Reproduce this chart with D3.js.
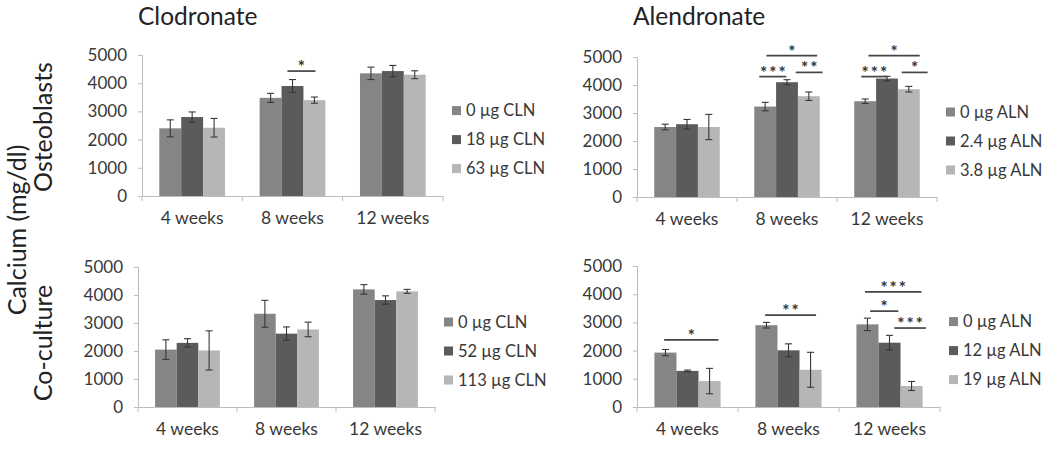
<!DOCTYPE html>
<html>
<head>
<meta charset="utf-8">
<script src="https://cdn.jsdelivr.net/npm/d3@7"></script>
<style>
  html, body { margin: 0; padding: 0; background: #fff; }
  svg { display: block; font-family: Lato, "Open Sans", sans-serif; }
</style>
</head>
<body>
<svg id="chart" width="1050" height="451"></svg>
<script>
// ---------- data ----------
const categories = ["4 weeks", "8 weeks", "12 weeks"];
const yTicks = [0, 1000, 2000, 3000, 4000, 5000];

// Clodronate - Osteoblasts
const clnOstLabels = ["0 µg CLN", "18 µg CLN", "63 µg CLN"];
const clnOstMeans = [[2400, 2800, 2420], [3480, 3900, 3400], [4350, 4430, 4300]];
const clnOstErrs  = [[300, 180, 330], [160, 230, 110], [220, 200, 140]];
const clnOstSig   = [{cat: 1, from: 1.27, to: 2.55, v: 4430, label: "*"}];

// Alendronate - Osteoblasts
const alnOstLabels = ["0 µg ALN", "2.4 µg ALN", "3.8 µg ALN"];
const alnOstMeans = [[2500, 2600, 2500], [3230, 4100, 3600], [3420, 4230, 3850]];
const alnOstErrs  = [[100, 170, 450], [150, 90, 150], [80, 80, 100]];
const alnOstSig   = [
  {cat: 1, from: 0.56, to: 2.88, v: 5050, label: "*"},
  {cat: 1, from: 0.23, to: 1.47, v: 4300, label: "***"},
  {cat: 1, from: 1.90, to: 3.13, v: 4450, label: "**"},
  {cat: 2, from: 0.65, to: 3.00, v: 5050, label: "*"},
  {cat: 2, from: 0.32, to: 1.52, v: 4300, label: "***"},
  {cat: 2, from: 2.17, to: 3.36, v: 4450, label: "*"}
];

// Clodronate - Co-culture
const clnCoLabels = ["0 µg CLN", "52 µg CLN", "113 µg CLN"];
const clnCoMeans = [[2050, 2290, 2020], [3330, 2620, 2770], [4200, 3820, 4130]];
const clnCoErrs  = [[350, 150, 700], [480, 240, 260], [170, 150, 70]];
const clnCoSig   = [];

// Alendronate - Co-culture
const alnCoLabels = ["0 µg ALN", "12 µg ALN", "19 µg ALN"];
const alnCoMeans = [[1930, 1280, 920], [2900, 2010, 1320], [2930, 2280, 745]];
const alnCoErrs  = [[110, 30, 450], [100, 230, 620], [220, 260, 160]];
const alnCoSig   = [
  {cat: 0, from: 0.44, to: 2.90, v: 2380, label: "*"},
  {cat: 1, from: 0.44, to: 2.75, v: 3260, label: "**"},
  {cat: 2, from: 0.39, to: 2.95, v: 4080, label: "***"},
  {cat: 2, from: 0.62, to: 1.90, v: 3400, label: "*"},
  {cat: 2, from: 1.72, to: 3.15, v: 2800, label: "***"}
];

const titles = ["Clodronate", "Alendronate"];
const rowLabels = ["Osteoblasts", "Co-culture"];
const yAxisTitle = "Calcium (mg/dl)";

// ---------- styling / layout ----------
const barColors = ["#858585", "#5b5b5b", "#b6b6b6"];
const axisColor = "#bdbdbd";
const textColor = "#383838";
const errColor = "#383838";

const panels = [
  {labels: clnOstLabels, means: clnOstMeans, errs: clnOstErrs, sig: clnOstSig, box: {x0: 142, x1: 443, y0: 55, y1: 196}},
  {labels: alnOstLabels, means: alnOstMeans, errs: alnOstErrs, sig: alnOstSig, box: {x0: 637, x1: 937, y0: 57, y1: 197}},
  {labels: clnCoLabels,  means: clnCoMeans,  errs: clnCoErrs,  sig: clnCoSig,  box: {x0: 138, x1: 435, y0: 267, y1: 407}},
  {labels: alnCoLabels,  means: alnCoMeans,  errs: alnCoErrs,  sig: alnCoSig,  box: {x0: 637, x1: 940, y0: 266, y1: 407}}
];

const svg = d3.select("#chart");

panels.forEach(p => {
  const b = p.box;
  const g = svg.append("g");
  const y = d3.scaleLinear().domain([0, 5000]).range([b.y1, b.y0]);
  const xCat = d3.scaleBand().domain(categories).range([b.x0, b.x1]).paddingInner(0).paddingOuter(0);
  const cw = xCat.bandwidth();
  const groupW = cw * 0.655;
  const bw = groupW / 3;
  const groupStart = c => xCat(c) + (cw - groupW) / 2;
  const xDose = d3.scaleBand().domain([0, 1, 2]).range([0, groupW]).padding(0);

  // y axis
  const yAxis = d3.axisLeft(y).tickValues(yTicks).tickSize(4).tickPadding(11).tickFormat(d3.format("d"));
  const ya = g.append("g").attr("transform", `translate(${b.x0},0)`).call(yAxis);
  ya.select(".domain").attr("stroke", axisColor);
  ya.selectAll(".tick line").attr("stroke", axisColor);
  ya.selectAll(".tick text").attr("fill", textColor).style("font-size", "17px").style("font-family", "Lato, sans-serif");

  // x axis
  const xa = g.append("g").attr("transform", `translate(0,${b.y1})`)
    .call(d3.axisBottom(xCat).tickSize(0).tickPadding(16));
  xa.select(".domain").attr("stroke", axisColor);
  xa.selectAll(".tick text").attr("fill", textColor).style("font-size", "17.5px").style("font-family", "Lato, sans-serif");
  // boundary tick marks
  const bounds = categories.map(c => xCat(c)).concat([b.x1]);
  g.selectAll(".bt").data(bounds).enter().append("line")
    .attr("x1", d => d).attr("x2", d => d)
    .attr("y1", b.y1).attr("y2", b.y1 + 5)
    .attr("stroke", axisColor);

  // bars
  const rows = [];
  categories.forEach((c, ci) => {
    p.means[ci].forEach((m, di) => rows.push({c, ci, di, m, e: p.errs[ci][di]}));
  });
  g.selectAll(".bar").data(rows).enter().append("rect")
    .attr("x", d => groupStart(d.c) + xDose(d.di))
    .attr("width", xDose.bandwidth())
    .attr("y", d => y(d.m))
    .attr("height", d => y(0) - y(d.m))
    .attr("fill", d => barColors[d.di]);

  // error bars
  const cap = 3.5;
  const eg = g.selectAll(".err").data(rows).enter().append("g");
  const cx = d => groupStart(d.c) + xDose(d.di) + xDose.bandwidth() / 2;
  eg.append("line").attr("x1", cx).attr("x2", cx)
    .attr("y1", d => y(d.m + d.e)).attr("y2", d => y(d.m - d.e))
    .attr("stroke", errColor).attr("stroke-width", 1.1);
  eg.append("line").attr("x1", d => cx(d) - cap).attr("x2", d => cx(d) + cap)
    .attr("y1", d => y(d.m + d.e)).attr("y2", d => y(d.m + d.e))
    .attr("stroke", errColor).attr("stroke-width", 1.1);
  eg.append("line").attr("x1", d => cx(d) - cap).attr("x2", d => cx(d) + cap)
    .attr("y1", d => y(d.m - d.e)).attr("y2", d => y(d.m - d.e))
    .attr("stroke", errColor).attr("stroke-width", 1.1);

  // significance annotations
  const sx = (s, t) => groupStart(categories[s.cat]) + t * bw;
  const sg = g.selectAll(".sig").data(p.sig).enter().append("g");
  sg.append("line")
    .attr("x1", d => sx(d, d.from)).attr("x2", d => sx(d, d.to))
    .attr("y1", d => y(d.v)).attr("y2", d => y(d.v))
    .attr("stroke", "#444").attr("stroke-width", 1.7);
  sg.append("text")
    .attr("x", d => (sx(d, d.from) + sx(d, d.to)) / 2 + 1)
    .attr("y", d => y(d.v) + 2)
    .attr("text-anchor", "middle")
    .attr("fill", "#333")
    .style("font-size", "17px")
    .style("font-weight", "bold")
    .style("letter-spacing", "2px")
    .text(d => d.label);

  // legend
  const lx = b.x1 + 9;
  const lcy = y(2000);
  const lg = g.selectAll(".leg").data(p.labels).enter().append("g")
    .attr("transform", (d, i) => `translate(${lx},${lcy + (i - 1) * 29})`);
  lg.append("rect").attr("x", 0).attr("y", -4.5).attr("width", 9).attr("height", 9)
    .attr("fill", (d, i) => barColors[i]);
  lg.append("text").attr("x", 14).attr("y", 0).attr("dy", "0.35em")
    .attr("fill", textColor).style("font-size", "16.5px").text(d => d);
});

// titles
svg.selectAll(".title").data(titles).enter().append("text")
  .attr("x", (d, i) => [138, 633][i]).attr("y", 25)
  .attr("fill", "#222").style("font-size", "24.5px").text(d => d);

// row labels
svg.selectAll(".row").data(rowLabels).enter().append("text")
  .attr("transform", (d, i) => `translate(52,${[127, 343][i]}) rotate(-90)`)
  .attr("text-anchor", "middle")
  .attr("fill", "#222").style("font-size", "25px").text(d => d);

svg.append("text")
  .attr("transform", "translate(26,230) rotate(-90)")
  .attr("text-anchor", "middle")
  .attr("fill", "#222").style("font-size", "25px").text(yAxisTitle);
</script>
</body>
</html>
